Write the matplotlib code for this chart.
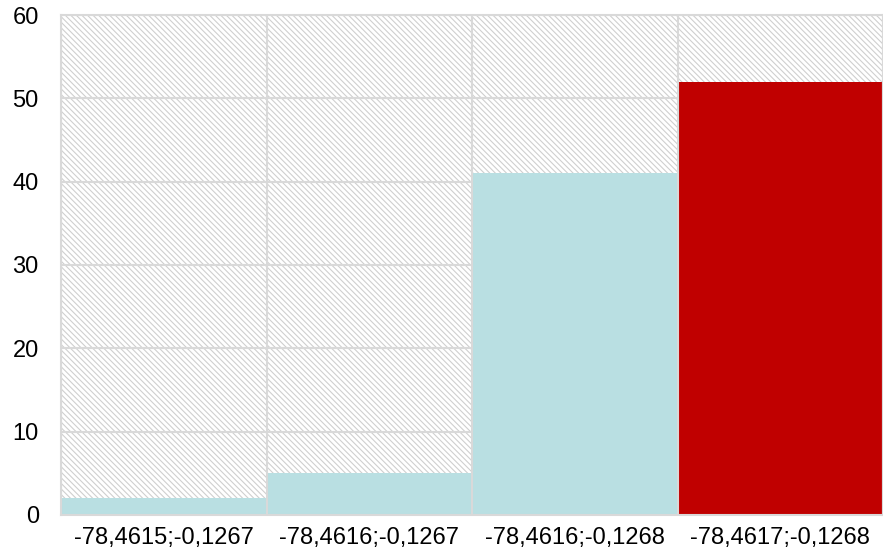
import matplotlib.pyplot as plt
from matplotlib.patches import Rectangle

categories = ["-78,4615;-0,1267", "-78,4616;-0,1267", "-78,4616;-0,1268", "-78,4617;-0,1268"]
values = [2, 5, 41, 52]
colors = ["#b9dfe2", "#b9dfe2", "#b9dfe2", "#c00000"]
y_ticks = [0, 10, 20, 30, 40, 50, 60]

plt.rcParams["font.family"] = ["Liberation Sans", "DejaVu Sans"]
plt.rcParams["xtick.labelsize"] = 17
plt.rcParams["ytick.labelsize"] = 17
plt.rcParams["hatch.linewidth"] = 0.8
plt.rcParams["hatch.color"] = "#cfcfcf"

fig = plt.figure(figsize=(8.83, 5.58), dpi=100)
ax = fig.add_axes([0.0691, 0.0771, 0.9309, 0.896])

grid_color = "#d9d9d9"
x = list(range(len(categories)))

# hatched background
ax.add_patch(Rectangle((0, 0), 1, 1, transform=ax.transAxes, facecolor="white",
                       edgecolor="#cfcfcf", hatch="\\" * 6, linewidth=0, zorder=0))

for yt in y_ticks:
    ax.axhline(yt, color=grid_color, linewidth=1.5, zorder=1)

ax.bar(x, values, width=1.0, color=colors, zorder=2)

for b in range(len(categories) + 1):
    ax.axvline(b - 0.5, color=grid_color, linewidth=1.5, zorder=3)

ax.set_xlim(-0.5, len(categories) - 0.5)
ax.set_ylim(0, 60)
ax.set_yticks(y_ticks)
ax.set_yticklabels([str(t) for t in y_ticks], fontsize=17)
ax.set_xticks(x)
ax.set_xticklabels(categories, fontsize=17)
ax.tick_params(axis="both", length=0, colors="black")
ax.tick_params(axis="y", pad=16)
ax.tick_params(axis="x", pad=9)
for s in ax.spines.values():
    s.set_color(grid_color)
    s.set_linewidth(1.5)

fig.savefig("out.png", dpi=100)
